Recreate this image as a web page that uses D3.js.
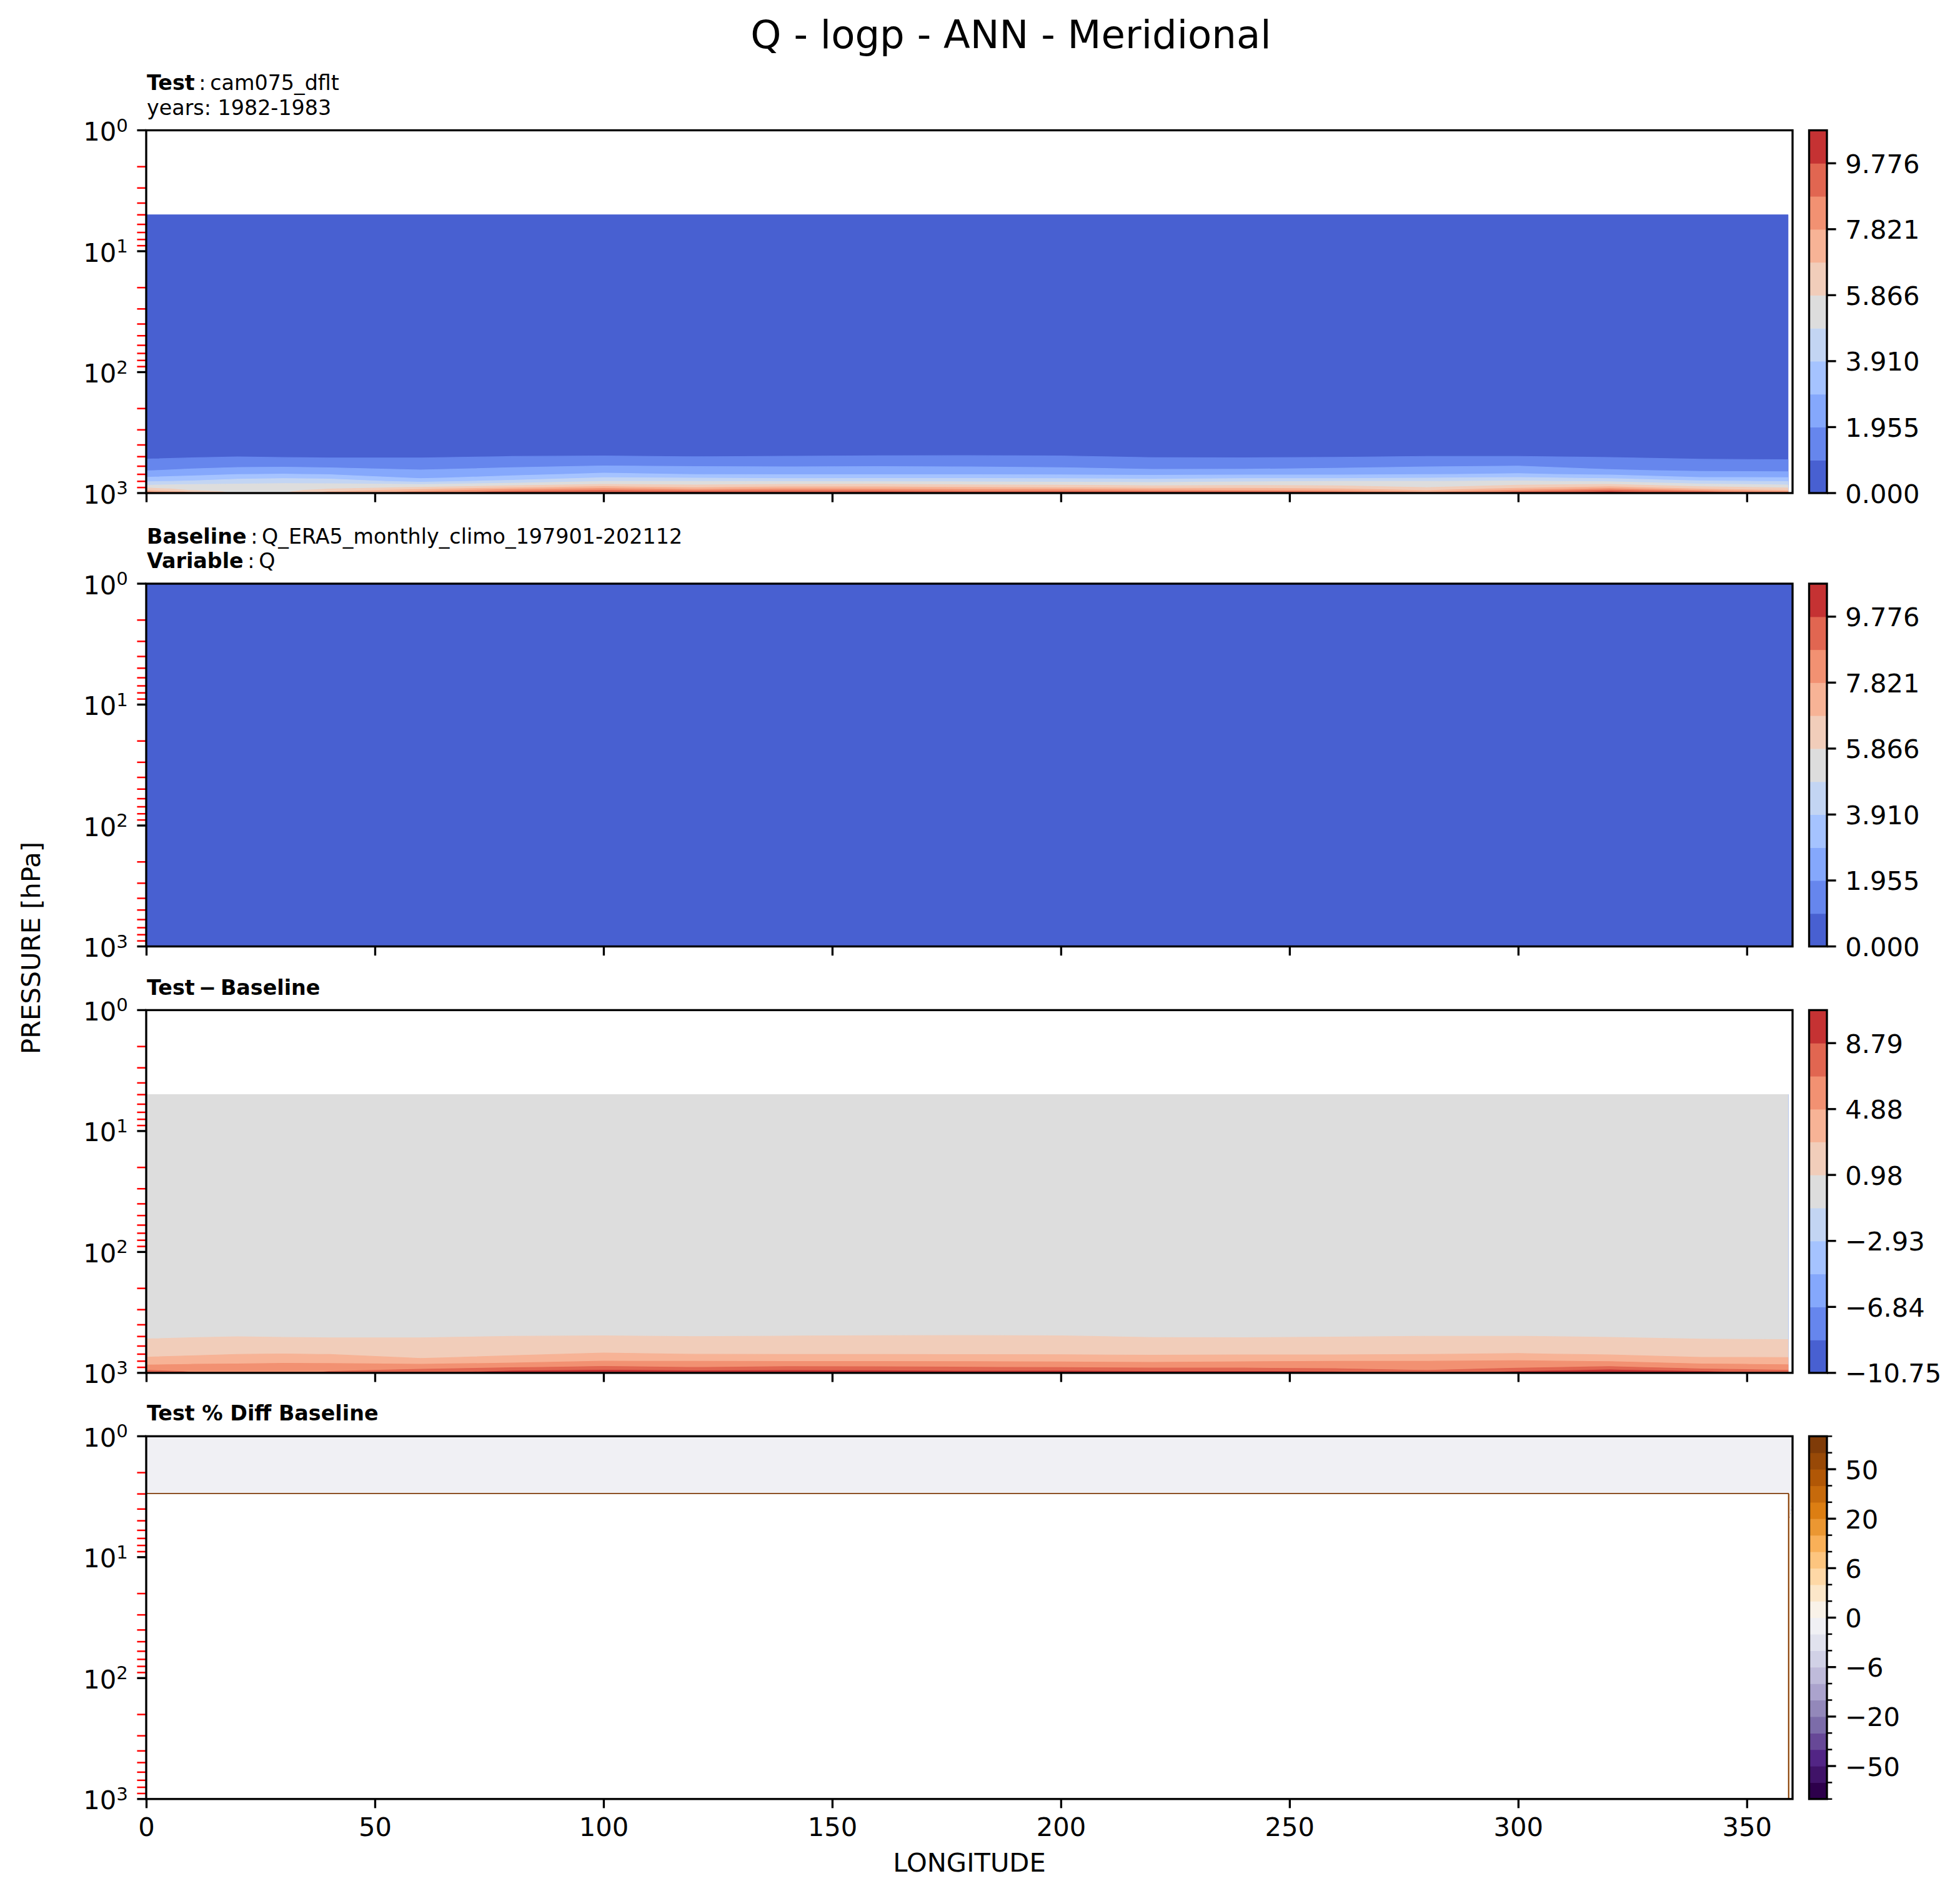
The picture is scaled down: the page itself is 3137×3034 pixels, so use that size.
<!DOCTYPE html>
<html><head><meta charset="utf-8">
<script src="https://cdn.jsdelivr.net/npm/d3@7"></script>
<style>body{margin:0;background:#fff} svg{display:block} text{font-family:"DejaVu Sans",sans-serif;fill:#000}</style>
</head><body><svg id="c" width="3137" height="3034"></svg>
<script>
// ---------------- DATA ----------------
// Test (cam075_dflt) specific humidity Q [g/kg], meridional mean
const testLons = [0,10,20,30,40,60,80,100,120,140,160,180,200,220,240,260,280,300,320,340,359];
const testUpperLevels = [5,7,10,20,30,50,70,100,150,200,250,300,350,400,450];
const testUpperQ = [0.0036,0.0035,0.0034,0.0031,0.0029,0.0027,0.0026,0.0029,0.009,0.028,0.065,0.14,0.25,0.39,0.62];
const testLowerLevels = [500,550,600,650,700,750,800,850,900,925,950,975,1000];
// one row per longitude in testLons, values at testLowerLevels
const testLowerQ = [
  [0.84,1.13,1.51,1.89,2.43,3.04,3.80,4.65,5.67,6.22,6.78,7.87,8.40],
  [0.89,1.26,1.67,2.13,2.66,3.29,4.01,4.89,5.33,5.55,5.77,6.59,7.00],
  [0.96,1.38,1.81,2.33,2.90,3.65,4.39,4.96,5.17,5.28,5.39,5.50,5.60],
  [0.90,1.34,1.84,2.39,2.97,3.78,4.57,5.03,5.27,5.39,5.51,5.63,5.75],
  [0.88,1.27,1.77,2.30,2.87,3.69,4.42,5.05,5.55,5.81,6.31,6.88,7.30],
  [0.89,1.24,1.62,2.00,2.39,2.78,3.60,4.89,5.92,6.58,7.27,7.95,8.50],
  [0.99,1.40,1.81,2.25,2.69,3.31,4.21,5.36,6.63,7.44,8.38,9.05,9.50],
  [1.03,1.51,1.99,2.52,3.12,3.98,4.87,5.94,7.25,8.06,8.80,9.30,9.90],
  [0.97,1.44,1.92,2.41,2.90,3.87,4.87,5.70,6.80,7.52,8.38,9.39,10.20],
  [1.01,1.45,1.89,2.37,2.86,3.72,4.80,5.93,7.11,7.86,8.70,9.17,9.60],
  [1.05,1.48,1.92,2.39,2.86,3.75,4.75,6.01,7.08,7.74,8.47,9.52,10.40],
  [1.06,1.47,1.88,2.36,2.85,3.75,4.75,5.73,6.90,7.56,8.31,9.00,9.50],
  [1.03,1.42,1.81,2.27,2.79,3.73,4.64,5.65,6.72,7.48,8.38,9.05,9.50],
  [0.91,1.27,1.64,2.07,2.70,3.56,4.56,5.45,6.52,7.20,7.99,8.91,9.40],
  [0.90,1.25,1.64,2.08,2.75,3.73,4.75,5.56,6.55,7.14,7.75,8.90,9.30],
  [0.93,1.33,1.73,2.21,2.76,3.69,4.86,5.54,6.37,6.87,7.53,8.68,9.20],
  [1.00,1.44,1.88,2.37,2.87,3.87,4.87,5.36,5.85,6.27,6.72,7.49,8.30],
  [1.00,1.48,1.97,2.48,3.05,4.05,5.01,5.68,6.53,7.11,7.97,8.84,9.30],
  [0.92,1.27,1.63,2.04,2.74,3.70,4.74,5.93,7.15,8.01,8.97,9.75,10.30],
  [0.84,1.11,1.47,1.83,2.36,3.01,4.03,5.04,6.16,6.77,7.70,8.88,9.20],
  [0.83,1.08,1.43,1.78,2.30,3.00,3.84,4.76,5.70,6.22,6.78,7.87,8.50]
];
// Baseline (ERA5) Q [kg/kg], uniform along longitude
const baseLons = [0,360];
const baseLevels = [1,2,3,5,7,10,20,30,50,70,100,150,200,250,300,350,400,450,500,550,600,650,700,750,800,850,900,925,950,975,1000];
const baseQ = [3.9e-6,3.8e-6,3.7e-6,3.6e-6,3.4e-6,3.2e-6,2.9e-6,2.7e-6,2.6e-6,2.6e-6,2.9e-6,7.0e-6,2.4e-5,6.0e-5,1.3e-4,2.4e-4,3.9e-4,6.0e-4,9.0e-4,1.25e-3,1.65e-3,2.1e-3,2.6e-3,3.4e-3,4.2e-3,5.1e-3,6.0e-3,6.6e-3,7.3e-3,8.2e-3,9.0e-3];
// % diff above the test model top
const pctUpperLevels = [1,2,3];
const pctUpper = [-0.8,-0.9,-1.0];

// contour levels and colorbar tick labels
const qLevels = [0,0.9776,1.9552,2.9328,3.9104,4.888,5.8656,6.8432,7.8208,8.7984,9.776,10.7536];
const qTickIdx = [0,2,4,6,8,10];
const qTickLabels = ["0.000","1.955","3.910","5.866","7.821","9.776"];
const diffLevels = [-10.75,-8.795,-6.84,-4.885,-2.93,-0.975,0.98,2.935,4.88,6.835,8.79,10.745];
const diffTickIdx = [0,2,4,6,8,10];
const diffTickLabels = ["\u221210.75","\u22126.84","\u22122.93","0.98","4.88","8.79"];
const pctLevels = [-100,-75,-50,-40,-30,-20,-10,-8,-6,-4,-2,0,2,4,6,8,10,20,30,40,50,75,100];
const pctTickValues = [-50,-20,-6,0,6,20,50];
const pctTickLabels = ["\u221250","\u221220","\u22126","0","6","20","50"];
const lonTicks = [0,50,100,150,200,250,300,350];
const pMajor = [1,10,100,1000];
const pMajorExp = ["0","1","2","3"];
const NO_DATA = -1e9;

// ---------------- LAYOUT ----------------
const W=3137, H=3034;
const X0=234, X1=2869, PH=580.5;
const tops=[208.5, 934, 1616.4, 2298.3];
const CB0=2895.5, CB1=2924;
const FS=41.67, FST=33.33, LW=3.33, TL=14.6;
const svg=d3.select("#c");
svg.append("rect").attr("width",W).attr("height",H).attr("fill","#fff");
const x=d3.scaleLinear().domain([0,360]).range([X0,X1]);

// colormaps
const cwTable=[[59,76,192],[68,90,204],[77,104,215],[87,117,225],[98,130,234],[108,142,241],[119,154,247],[130,165,251],[141,176,254],[152,185,255],[163,194,255],[174,201,253],[184,208,249],[194,213,244],[204,217,238],[213,219,230],[221,221,221],[229,216,209],[236,211,197],[241,204,185],[245,196,173],[247,187,160],[247,177,148],[247,166,135],[244,154,123],[241,141,111],[236,127,99],[229,112,88],[222,96,77],[213,80,66],[203,62,56],[192,40,47],[180,4,38]];
const puorR=["#2d004b","#542788","#8073ac","#b2abd2","#d8daeb","#f7f7f7","#fee0b6","#fdb863","#e08214","#b35806","#7f3b08"].map(c=>d3.rgb(c));
function sampleTable(tbl,t){
  const s=Math.max(0,Math.min(1,t))*(tbl.length-1);
  const k=Math.min(Math.floor(s),tbl.length-2), f=s-k;
  const a=tbl[k], b=tbl[k+1];
  const g=(i)=>Math.round(a[i]+(b[i]-a[i])*f);
  return `rgb(${g(0)},${g(1)},${g(2)})`;
}
const coolwarm=t=>sampleTable(cwTable,t);
const puorTbl=puorR.map(c=>[c.r,c.g,c.b]);
const puor=t=>sampleTable(puorTbl,t);
const qColors=d3.range(qLevels.length-1).map(i=>coolwarm((i+0.5)/(qLevels.length-1)));
const diffColors=d3.range(diffLevels.length-1).map(i=>coolwarm((i+0.5)/(diffLevels.length-1)));
const pctColors=d3.range(pctLevels.length-1).map(i=>puor(i/(pctLevels.length-2)));

// ---------------- GRIDS ----------------
const testLevels=testUpperLevels.concat(testLowerLevels);
const testGrid=testLevels.map((p,j)=> testLons.map((lon,i)=> j<testUpperLevels.length ? testUpperQ[j] : testLowerQ[i][j-testUpperLevels.length]));
const baseAt=p=>baseQ[baseLevels.indexOf(p)];
const baseGrid=baseLevels.map((p,j)=>baseLons.map(()=>baseQ[j]));
const diffGrid=testLevels.map((p,j)=>testLons.map((lon,i)=>testGrid[j][i]-baseAt(p)));
const pctLons=testLons.concat([360]);
const pctGrid=baseLevels.map((p,j)=>{
  const ui=pctUpperLevels.indexOf(p);
  if(ui>=0) return pctLons.map(()=>pctUpper[ui]);
  const tj=testLevels.indexOf(p);
  return pctLons.map((lon,i)=> i<testLons.length ? (testGrid[tj][i]-baseQ[j])/baseQ[j]*100 : NO_DATA);
});

// ---------------- DRAW ----------------
function mapC(c,arr){const t=c-0.5; if(t<=0) return arr[0]; if(t>=arr.length-1) return arr[arr.length-1]; const k=Math.floor(t); return arr[k]+(t-k)*(arr[k+1]-arr[k]);}
function contourLayer(g,lons,pres,grid,levels,colors,yS,sw){
  const n=lons.length, m=pres.length, vals=[];
  for(let j=0;j<m;j++) for(let i=0;i<n;i++) vals.push(grid[j][i]);
  const cs=d3.contours().size([n,m]).thresholds(levels)(vals);
  const pathOf=mp=>mp.coordinates.map(poly=>poly.map(ring=>"M"+ring.map(([cx,cy])=>x(mapC(cx,lons)).toFixed(2)+","+yS(mapC(cy,pres)).toFixed(2)).join("L")+"Z").join("")).join("");
  cs.forEach((c,i)=>{
    if(!c.coordinates.length) return;
    const over=i>=colors.length;
    g.append("path").attr("d",pathOf(c)).attr("fill",over?"#fff":colors[i]).attr("fill-rule","evenodd")
      .attr("stroke",over?"none":colors[i]).attr("stroke-width",over?0:sw).attr("stroke-linejoin","round");
  });
}
function titleLines(lines,baseY0){
  lines.forEach((ln,k)=>{
    const t=svg.append("text").attr("x",X0+1).attr("y",baseY0+k*39.5).attr("font-size",FST);
    ln.forEach(([s,b])=>t.append("tspan").attr("font-weight",b?"bold":"normal").text(s));
  });
}
function colorbar(top,levels,colors,uniform,majorVals,labels,minorAll){
  const g=svg.append("g");
  const n=levels.length;
  const cy= uniform ? (v=>d3.scaleLinear().domain([0,n-1]).range([top+PH,top])(levels.indexOf(v)))
                    : d3.scaleLinear().domain([levels[0],levels[n-1]]).range([top+PH,top]);
  colors.forEach((c,i)=>{
    const y1=cy(levels[i]), y2=cy(levels[i+1]);
    g.append("rect").attr("x",CB0).attr("y",y2).attr("width",CB1-CB0).attr("height",y1-y2+0.6).attr("fill",c);
  });
  g.append("rect").attr("x",CB0).attr("y",top).attr("width",CB1-CB0).attr("height",PH).attr("fill","none").attr("stroke","#000").attr("stroke-width",LW);
  if(minorAll){
    levels.forEach(v=>{ if(majorVals.indexOf(v)<0){ const y=cy(v);
      g.append("line").attr("x1",CB1).attr("x2",CB1+8.33).attr("y1",y).attr("y2",y).attr("stroke","#000").attr("stroke-width",2.5);} });
  }
  majorVals.forEach((v,k)=>{
    const y=cy(v);
    g.append("line").attr("x1",CB1).attr("x2",CB1+TL).attr("y1",y).attr("y2",y).attr("stroke","#000").attr("stroke-width",LW);
    g.append("text").attr("x",CB1+TL+14.6).attr("y",y+15.5).attr("font-size",FS).text(labels[k]);
  });
}
function panel(idx,drawFn,showXLabels){
  const top=tops[idx];
  const yS=d3.scaleLog().domain([1,1000]).range([top,top+PH]);
  const clipId="clip"+idx;
  svg.append("clipPath").attr("id",clipId).append("rect").attr("x",X0).attr("y",top).attr("width",X1-X0).attr("height",PH);
  const g=svg.append("g").attr("clip-path",`url(#${clipId})`);
  drawFn(g,yS);
  // y minor ticks (red)
  const ax=svg.append("g");
  [1,10,100].forEach(d=>{ for(let k=2;k<=9;k++){ const y=yS(k*d);
    ax.append("line").attr("x1",X0-TL).attr("x2",X0).attr("y1",y).attr("y2",y).attr("stroke","red").attr("stroke-width",2.5);} });
  pMajor.forEach((p,k)=>{
    const y=yS(p);
    ax.append("line").attr("x1",X0-TL).attr("x2",X0).attr("y1",y).attr("y2",y).attr("stroke","#000").attr("stroke-width",LW);
    const t=ax.append("text").attr("x",X0-TL-14.6).attr("y",y+16.5).attr("text-anchor","end").attr("font-size",FS);
    t.append("tspan").text("10");
    t.append("tspan").attr("dy",-14.5).attr("font-size",29.2).text(pMajorExp[k]);
  });
  // x axis
  const xa=d3.axisBottom(x).tickValues(lonTicks).tickSize(TL).tickPadding(14.6).tickFormat(showXLabels?d3.format("d"):"");
  const xg=svg.append("g").attr("transform",`translate(0,${top+PH})`).call(xa);
  xg.select(".domain").remove();
  xg.selectAll(".tick line").attr("stroke","#000").attr("stroke-width",LW);
  xg.selectAll(".tick text").attr("font-size",FS).attr("font-family","DejaVu Sans").attr("fill","#000");
  svg.append("rect").attr("x",X0).attr("y",top).attr("width",X1-X0).attr("height",PH).attr("fill","none").attr("stroke","#000").attr("stroke-width",LW);
}

// Title
svg.append("text").attr("x",1618).attr("y",77).attr("text-anchor","middle").attr("font-size",62.5).text("Q - logp - ANN - Meridional");

// Panel 1: Test
titleLines([[["Test",true],["\u2009:\u2009cam075_dflt",false]],[["years: 1982-1983",false]]],144);
panel(0,(g,yS)=>contourLayer(g,testLons,testLevels,testGrid,qLevels,qColors,yS,1.2),false);
colorbar(tops[0],qLevels,qColors,false,qTickIdx.map(i=>qLevels[i]),qTickLabels,false);

// Panel 2: Baseline
titleLines([[["Baseline",true],["\u2009:\u2009Q_ERA5_monthly_climo_197901-202112",false]],[["Variable",true],["\u2009:\u2009Q",false]]],869.5);
panel(1,(g,yS)=>contourLayer(g,baseLons,baseLevels,baseGrid,qLevels,qColors,yS,1.2),false);
colorbar(tops[1],qLevels,qColors,false,qTickIdx.map(i=>qLevels[i]),qTickLabels,false);

// Panel 3: Test - Baseline
titleLines([[["Test\u2009\u2212\u2009Baseline",true]]],1592);
panel(2,(g,yS)=>contourLayer(g,testLons,testLevels,diffGrid,diffLevels,diffColors,yS,1.2),false);
colorbar(tops[2],diffLevels,diffColors,false,diffTickIdx.map(i=>diffLevels[i]),diffTickLabels,false);

// Panel 4: Test % Diff Baseline
titleLines([[["Test % Diff Baseline",true]]],2273);
panel(3,(g,yS)=>contourLayer(g,pctLons,baseLevels,pctGrid,pctLevels,pctColors,yS,3.2),true);
colorbar(tops[3],pctLevels,pctColors,true,pctTickValues,pctTickLabels,true);

// Axis labels
svg.append("text").attr("x",(X0+X1)/2).attr("y",2995).attr("text-anchor","middle").attr("font-size",FS).text("LONGITUDE");
svg.append("text").attr("transform","translate(64,1517) rotate(-90)").attr("text-anchor","middle").attr("font-size",FS).text("PRESSURE [hPa]");
</script></body></html>
